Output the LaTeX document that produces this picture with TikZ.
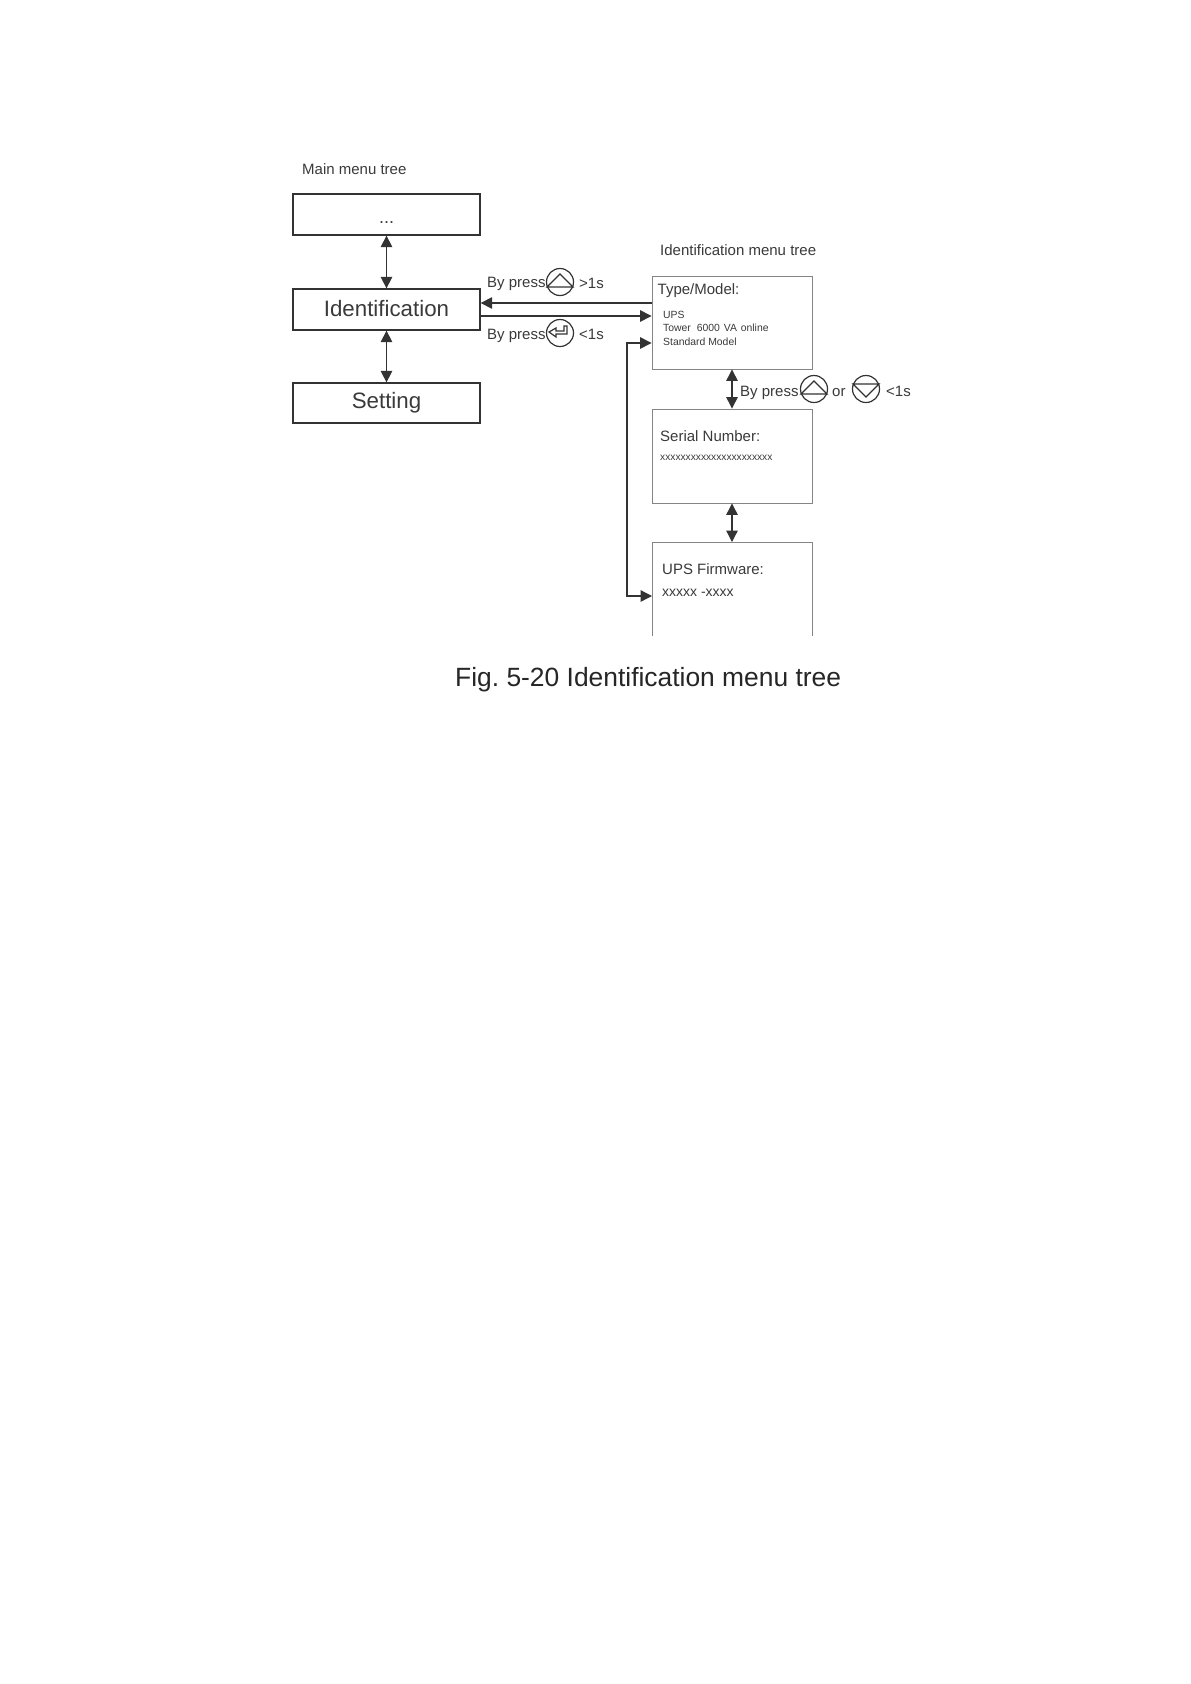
\documentclass[tikz,border=0pt]{standalone}
\usepackage{fontspec}
\setmainfont{Liberation Sans}
\usetikzlibrary{arrows.meta}
\definecolor{inkc}{HTML}{333333}
\definecolor{txtc}{HTML}{3A3A3A}
\definecolor{thinc}{HTML}{858585}
\tikzset{
  mainbox/.style={draw=inkc,line width=1.3pt,minimum width=187pt,inner sep=0pt,font=\fontsize{22.3}{26}\selectfont,text=txtc},
  treebox/.style={draw=thinc,line width=0.9pt,minimum width=160pt,inner sep=0pt},
  lab/.style={anchor=mid west,inner sep=0pt,text=txtc,font=\fontsize{15}{18}\selectfont},
  small/.style={anchor=mid west,inner sep=0pt,text=txtc,font=\fontsize{10.4}{12}\selectfont},
  capt/.style={anchor=mid west,inner sep=0pt,text=black!85,font=\fontsize{26.4}{30}\selectfont},
  iconc/.style={draw=inkc,circle,line width=1.2pt,minimum size=27pt,inner sep=0pt},
  glyph/.style={draw=inkc,line width=1.2pt},
  conn/.style={draw=inkc,line width=1.3pt,-{Triangle[length=11.5pt,width=11.5pt]}},
  dconn/.style={draw=inkc,line width=1.3pt,{Triangle[length=11.5pt,width=11.5pt]}-{Triangle[length=11.5pt,width=11.5pt]}}
}
\begin{document}
\begin{tikzpicture}[x=1pt,y=-1pt]
\frenchspacing
\useasboundingbox (0,0) rectangle (1191,1684);
\fill[white] (0,0) rectangle (1191,1684);
% main boxes
\node[mainbox,minimum height=41pt] (dots) at (386.5,214.5) {\smash{\raisebox{-9pt}{\fontsize{18}{20}\selectfont ...}}};
\node[mainbox,minimum height=41pt] (ident) at (386.5,309.5) {\raisebox{2pt}{Identification}};
\node[mainbox,minimum height=40pt] (setting) at (386.5,403) {\raisebox{-4pt}{Setting}};
% tree boxes
\node[treebox,minimum height=93pt] (type) at (732,322.5) {};
\node[treebox,minimum height=94pt] (serial) at (732,456) {};
\node[minimum width=160pt,minimum height=94pt,inner sep=0pt,outer sep=0pt] (firm) at (732,589) {};
\draw[draw=thinc,line width=0.9pt] (firm.south west) -- (firm.north west) -- (firm.north east) -- (firm.south east);
% titles
\node[lab] (t1) at (302,172) {Main menu tree};
\node[lab] (t2) at (660,253) {Identification menu tree};
% box text
\node[lab] (tm) at (657.5,292) {Type/Model:};
\node[small] (u1) at (663,316) {UPS};
\node[small] (u2) at (663,329) {Tower\hspace{3pt} 6000\hspace{1pt} VA\hspace{1pt} online};
\node[small] (u3) at (663,343) {Standard Model};
\node[lab] (sn) at (660,439) {Serial Number:};
\node[small,font=\fontsize{10.2}{12}\selectfont] (sx) at (660,458) {xxxxxxxxxxxxxxxxxxxxxx};
\node[lab] (uf) at (662,572) {UPS Firmware:};
\node[lab,font=\fontsize{14}{16}\selectfont] (ux) at (662,594) {xxxxx -xxxx};
% connector ends
\coordinate (ta) at (type.west |- 0,303);
\coordinate (ma) at (ident.east |- 0,303);
\coordinate (mb) at (ident.east |- 0,316);
\coordinate (tb) at (type.west |- 0,316);
\coordinate (tc) at (type.west |- 0,343);
\coordinate (fc) at (firm.west |- 0,596);
\coordinate (kc) at (627,343);
\coordinate (kd) at (627,596);
% connectors
\draw[dconn] (dots.south) -- (ident.north);
\draw[dconn] (ident.south) -- (setting.north);
\draw[conn] (ta) -- (ma);
\draw[conn] (mb) -- (tb);
\draw[dconn] (tc) -- (kc) -- (kd) -- (fc);
\draw[dconn] (type.south) -- (serial.north);
\draw[dconn] (serial.south) -- (firm.north);
% labels with icons
\node[lab] (l1) at (487,285) {By press};
\node[iconc] (up1) at (560,282) {};
\draw[glyph] ([shift={(-13,5)}]up1.center) -- ([shift={(0,-8)}]up1.center) -- ([shift={(13,5)}]up1.center) -- cycle;
\node[lab] (l1b) at (579,286) {>1s};
\node[lab] (l2) at (487,337) {By press};
\node[iconc] (ent) at (560,333) {};
\draw[glyph] ([shift={(7,-7)}]ent.center) -- ([shift={(7,1)}]ent.center) -- ([shift={(-4,1)}]ent.center) -- ([shift={(-4,4)}]ent.center) -- ([shift={(-11,-1)}]ent.center) -- ([shift={(-4,-5)}]ent.center) -- ([shift={(-4,-2)}]ent.center) -- ([shift={(4,-2)}]ent.center) -- ([shift={(4,-7)}]ent.center) -- cycle;
\node[lab] (l2b) at (579,337) {<1s};
\node[lab] (l3) at (740,394) {By press};
\node[iconc] (up2) at (814,389) {};
\draw[glyph] ([shift={(-13,5)}]up2.center) -- ([shift={(0,-8)}]up2.center) -- ([shift={(13,5)}]up2.center) -- cycle;
\node[lab] (l3o) at (832,394) {or};
\node[iconc] (dn2) at (866,389) {};
\draw[glyph] ([shift={(-13,-5)}]dn2.center) -- ([shift={(0,8)}]dn2.center) -- ([shift={(13,-5)}]dn2.center) -- cycle;
\node[lab] (l3b) at (886,394) {<1s};
% caption
\node[capt] (cap) at (455,684) {Fig. 5-20 Identification menu tree};
\end{tikzpicture}
\end{document}
